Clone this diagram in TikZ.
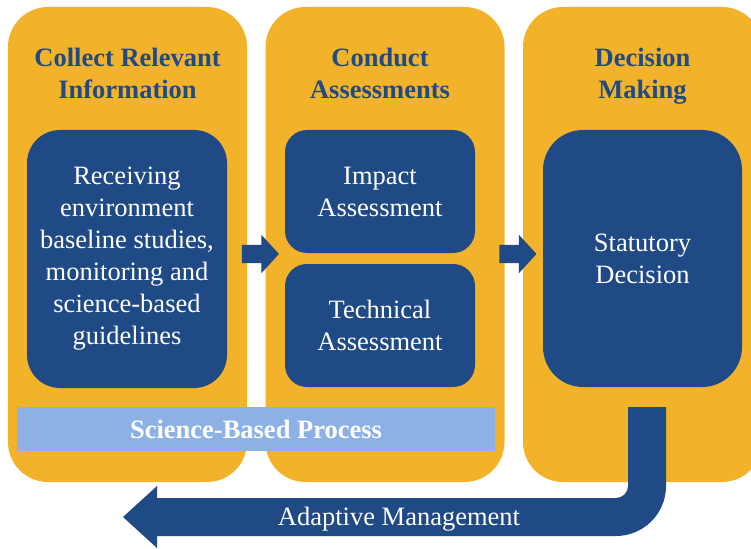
\documentclass[tikz,border=0pt]{standalone}
\usepackage{fontspec}
\setmainfont{Liberation Serif}
\usetikzlibrary{shapes.arrows,calc}

\definecolor{gold}{HTML}{F2B32A}
\definecolor{navy}{HTML}{1F4A85}
\definecolor{paleblue}{HTML}{8DB1E5}

\tikzset{
  stage/.style={fill=gold, rounded corners=40pt, inner sep=0pt, minimum width=239pt, minimum height=475pt},
  heading/.style={text=navy, align=center, font=\bfseries\fontsize{26.5}{32}\selectfont},
  task/.style={fill=navy, text=white, align=center, inner sep=0pt, font=\fontsize{26.5}{32}\selectfont},
  flow/.style={single arrow, fill=navy, inner sep=0pt, text height=9pt, text depth=9pt,
    single arrow head extend=10pt, single arrow tip angle=95, minimum height=37pt},
}

\begin{document}
\begin{tikzpicture}[x=1pt,y=-1pt]
    \clip (0,0) rectangle (751,548);

    % stage columns
    \node[stage] (collect) at (127.5,244.5) {};
    \node[stage] (conduct) at (385,244.5) {};
    \node[stage] (decide) at (642.5,244.5) {};

    % column headings (base = last line)
    \node[heading, anchor=base] (collecthead) at (127.5,99) {Collect Relevant\\Information};
    \node[heading, anchor=base] (conducthead) at (380,99) {Conduct\\Assessments};
    \node[heading, anchor=base] (decidehead) at (642.5,99) {Decision\\Making};

    % inner boxes
    \node[task, rounded corners=33pt, minimum width=200pt, minimum height=258pt] (studies) at (127,259)
        {Receiving\\environment\\baseline studies,\\monitoring and\\science-based\\guidelines};
    \node[task, rounded corners=22pt, minimum width=190pt, minimum height=123pt] (impact) at (380,191.5)
        {Impact\\Assessment};
    \node[task, rounded corners=22pt, minimum width=190pt, minimum height=123pt] (technical) at (380,325.5)
        {Technical\\Assessment};
    \node[task, rounded corners=40pt, minimum width=199pt, minimum height=257pt] (statutory) at (642.5,258.5)
        {Statutory\\Decision};

    % science-based band
    \node[fill=paleblue, text=white, inner sep=0pt, minimum width=478pt, minimum height=44pt,
        font=\bfseries\fontsize{26.5}{32}\selectfont] (science) at (256,429) {Science-Based Process};

    % flow arrows
    \node[flow] (toconduct) at ($(collect.east)!0.5!(conduct.west)+(0,9.5)$) {};
    \node[flow] (todecide) at ($(conduct.east)!0.5!(decide.west)+(0,9.5)$) {};

    % adaptive management return arrow
    \fill[navy] (628,407) -- (666,407) -- (666,486)
        .. controls (666,513.6) and (643.6,536) .. (616,536)
        -- (157,536) -- (157,548) -- (123,517) -- (157,486) -- (157,498) -- (616,498)
        .. controls (622.6,498) and (628,492.6) .. (628,486) -- cycle;
    \node[text=white, font=\fontsize{26.5}{32}\selectfont] (adaptive) at (399,519) {Adaptive Management};
\end{tikzpicture}
\end{document}
